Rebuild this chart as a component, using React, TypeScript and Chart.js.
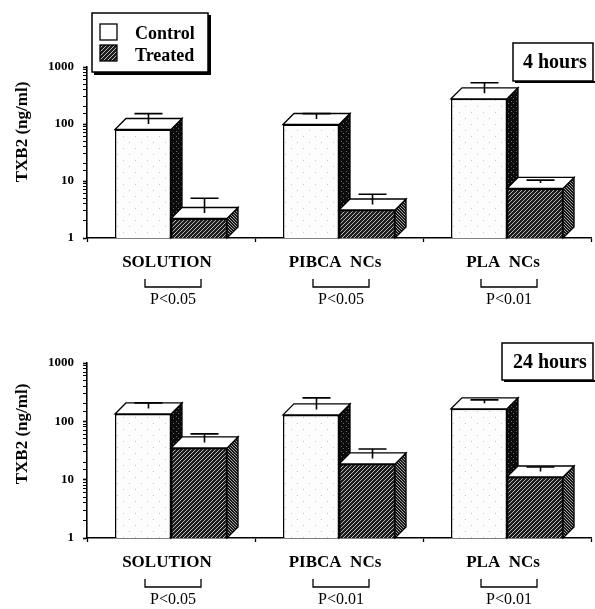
import React, { useEffect, useRef } from "react";
import { Chart, registerables } from "chart.js";

Chart.register(...registerables);

// ---------- data ----------
const categories = ["SOLUTION", "PIBCA  NCs", "PLA  NCs"];
const seriesLabels = ["Control", "Treated"];
const yTickLabels = ["1", "10", "100", "1000"];
const panelTitles = ["4 hours", "24 hours"];
const yAxisTitle = "TXB2 (ng/ml)";

const control4h = [80, 98, 277];
const control4hErrTop = [122, 122, 423];
const treated4h = [2.2, 3.1, 7.4];
const treated4hErrTop = [4.0, 4.7, 8.3];
const pValues4h = ["P<0.05", "P<0.05", "P<0.01"];

const control24h = [134, 129, 164];
const control24hErrTop = [167, 203, 188];
const treated24h = [35, 18.6, 11.1];
const treated24hErrTop = [49, 27, 13.3];
const pValues24h = ["P<0.05", "P<0.01", "P<0.01"];

// ---------- styling ----------
const SERIF = '"Liberation Serif", "Times New Roman", serif';
const DEPTH = 11;

type Panel = {
  title: string;
  control: number[];
  controlErr: number[];
  treated: number[];
  treatedErr: number[];
  pValues: string[];
  canvasTop: number;
  canvasH: number;
  chartTop: number;
  chartBottom: number;
  titleY: number;
  titleBox: [number, number, number, number];
  titleText: [number, number];
  legend: boolean;
};

const panels: Panel[] = [
  {
    title: panelTitles[0],
    control: control4h,
    controlErr: control4hErrTop,
    treated: treated4h,
    treatedErr: treated4hErrTop,
    pValues: pValues4h,
    canvasTop: 0,
    canvasH: 305,
    chartTop: 67,
    chartBottom: 238,
    titleY: 132,
    titleBox: [513, 43, 80, 38],
    titleText: [523, 68],
    legend: true,
  },
  {
    title: panelTitles[1],
    control: control24h,
    controlErr: control24hErrTop,
    treated: treated24h,
    treatedErr: treated24hErrTop,
    pValues: pValues24h,
    canvasTop: 305,
    canvasH: 304,
    chartTop: 363,
    chartBottom: 538,
    titleY: 434 - 305,
    titleBox: [502, 343 - 305, 91, 37],
    titleText: [513, 368 - 305],
    legend: false,
  },
];

function makePatterns(ctx: CanvasRenderingContext2D) {
  const tile = (w: number, h: number, draw: (g: CanvasRenderingContext2D) => void) => {
    const c = document.createElement("canvas");
    c.width = w;
    c.height = h;
    const g = c.getContext("2d")!;
    draw(g);
    return ctx.createPattern(c, "repeat")!;
  };
  const controlFront = tile(12, 12, (g) => {
    g.fillStyle = "#fdfdfd";
    g.fillRect(0, 0, 12, 12);
    g.fillStyle = "#c4c4c4";
    g.fillRect(3, 4, 1, 1);
    g.fillRect(9, 10, 1, 1);
  });
  const controlSide = tile(5, 5, (g) => {
    g.fillStyle = "#0c0c0c";
    g.fillRect(0, 0, 5, 5);
    g.fillStyle = "#6a6a6a";
    g.fillRect(1, 1, 1, 1);
    g.fillRect(3, 3, 1, 1);
  });
  const treatedFront = tile(4, 4, (g) => {
    g.fillStyle = "#1c1c1c";
    g.fillRect(0, 0, 4, 4);
    g.fillStyle = "#b8b8b8";
    for (let i = 0; i < 4; i++) g.fillRect(i, 3 - i, 1, 1);
  });
  const treatedSide = tile(3, 3, (g) => {
    g.fillStyle = "#161616";
    g.fillRect(0, 0, 3, 3);
    g.fillStyle = "#a8a8a8";
    g.fillRect(1, 0, 1, 1);
    g.fillRect(0, 2, 1, 1);
    g.fillRect(2, 1, 1, 1);
  });
  return { controlFront, controlSide, treatedFront, treatedSide };
}

function makeOverlay(panel: Panel, pats: ReturnType<typeof makePatterns>) {
  return {
    id: "overlay3d",
    afterDatasetsDraw(chart: any) {
      const ctx: CanvasRenderingContext2D = chart.ctx;
      const ys = chart.scales.y;
      const errs = [panel.controlErr, panel.treatedErr];
      const sides = [pats.controlSide, pats.treatedSide];
      chart.data.datasets.forEach((_ds: any, di: number) => {
        const meta = chart.getDatasetMeta(di);
        meta.data.forEach((el: any, i: number) => {
          const { x, y, base, width } = el.getProps(["x", "y", "base", "width"], true);
          if (di > 0) el.draw(ctx, chart.chartArea);
          const l = x - width / 2;
          const r = x + width / 2;
          const d = DEPTH;
          ctx.save();
          ctx.lineWidth = 1.3;
          ctx.strokeStyle = "#000";
          ctx.lineJoin = "miter";
          // side face
          ctx.beginPath();
          ctx.moveTo(r, y);
          ctx.lineTo(r + d, y - d);
          ctx.lineTo(r + d, base - d);
          ctx.lineTo(r, base);
          ctx.closePath();
          ctx.fillStyle = sides[di];
          ctx.fill();
          ctx.stroke();
          // top face
          ctx.beginPath();
          ctx.moveTo(l, y);
          ctx.lineTo(l + d, y - d);
          ctx.lineTo(r + d, y - d);
          ctx.lineTo(r, y);
          ctx.closePath();
          ctx.fillStyle = "#fff";
          ctx.fill();
          ctx.stroke();
          // error bar
          const ex = x + d / 2;
          const ey = ys.getPixelForValue(errs[di][i]) - d / 2;
          ctx.lineWidth = 1.6;
          ctx.beginPath();
          ctx.moveTo(ex, y - d / 2);
          ctx.lineTo(ex, ey);
          ctx.moveTo(ex - 14, ey);
          ctx.lineTo(ex + 14, ey);
          ctx.stroke();
          ctx.restore();
        });
      });
    },
    afterDraw(chart: any) {
      const ctx: CanvasRenderingContext2D = chart.ctx;
      const xs = chart.scales.x;
      const bottom = chart.chartArea.bottom;
      ctx.save();
      ctx.fillStyle = "#000";
      ctx.strokeStyle = "#000";

      // y axis title
      ctx.save();
      ctx.translate(27, panel.titleY);
      ctx.rotate(-Math.PI / 2);
      ctx.font = `bold 17px ${SERIF}`;
      ctx.textAlign = "center";
      ctx.textBaseline = "alphabetic";
      ctx.fillText(yAxisTitle, 0, 0);
      ctx.restore();

      // p-value brackets
      ctx.lineWidth = 1.3;
      ctx.font = `16px ${SERIF}`;
      ctx.textAlign = "center";
      ctx.textBaseline = "alphabetic";
      panel.pValues.forEach((p, i) => {
        const cx = xs.getPixelForValue(i) + 2;
        ctx.beginPath();
        ctx.moveTo(cx - 28, bottom + 41);
        ctx.lineTo(cx - 28, bottom + 49);
        ctx.lineTo(cx + 28, bottom + 49);
        ctx.lineTo(cx + 28, bottom + 41);
        ctx.stroke();
        ctx.fillText(p, cx, bottom + 66);
      });

      // panel title box
      const [bx, by, bw, bh] = panel.titleBox;
      ctx.fillStyle = "#fff";
      ctx.fillRect(bx, by, bw, bh);
      ctx.fillStyle = "#000";
      ctx.lineWidth = 1.5;
      ctx.strokeRect(bx, by, bw, bh);
      ctx.fillRect(bx + 2, by + bh, bw, 2);
      ctx.font = `bold 20px ${SERIF}`;
      ctx.textAlign = "left";
      ctx.fillText(panel.title, panel.titleText[0], panel.titleText[1]);

      // legend
      if (panel.legend) {
        ctx.fillStyle = "#fff";
        ctx.fillRect(92, 13, 116, 59);
        ctx.fillStyle = "#000";
        ctx.lineWidth = 1.5;
        ctx.strokeRect(92, 13, 116, 59);
        ctx.fillRect(208, 15, 3, 60);
        ctx.fillRect(94, 72, 117, 3);
        ctx.lineWidth = 1.3;
        ctx.fillStyle = "#fff";
        ctx.fillRect(100, 24, 17, 16);
        ctx.strokeRect(100, 24, 17, 16);
        ctx.fillStyle = pats.treatedFront;
        ctx.fillRect(100, 45, 17, 16);
        ctx.strokeRect(100, 45, 17, 16);
        ctx.fillStyle = "#000";
        ctx.font = `bold 18px ${SERIF}`;
        ctx.fillText(seriesLabels[0], 135, 39);
        ctx.fillText(seriesLabels[1], 135, 61);
      }
      ctx.restore();
    },
  };
}

function PanelChart({ panel }: { panel: Panel }) {
  const ref = useRef<HTMLCanvasElement | null>(null);
  useEffect(() => {
    const canvas = ref.current!;
    const ctx = canvas.getContext("2d")!;
    const pats = makePatterns(ctx);
    const xHeight = panel.canvasH - (panel.chartBottom - panel.canvasTop);
    const chart = new Chart(canvas, {
      type: "bar",
      data: {
        labels: categories,
        datasets: [
          {
            label: seriesLabels[0],
            data: panel.control,
            backgroundColor: pats.controlFront,
            borderColor: "#000",
            borderWidth: 1.5,
          },
          {
            label: seriesLabels[1],
            data: panel.treated,
            backgroundColor: pats.treatedFront,
            borderColor: "#000",
            borderWidth: 1.5,
          },
        ],
      },
      options: {
        responsive: false,
        animation: false,
        devicePixelRatio: 1,
        layout: {
          padding: { top: panel.chartTop - panel.canvasTop, right: 4, left: 0, bottom: 0 },
        },
        datasets: { bar: { categoryPercentage: 0.667, barPercentage: 1 } },
        plugins: { legend: { display: false }, tooltip: { enabled: false }, title: { display: false } },
        scales: {
          x: {
            type: "category",
            offset: true,
            afterFit: (s: any) => {
              s.height = xHeight;
            },
            grid: {
              offset: true,
              display: true,
              drawOnChartArea: false,
              drawTicks: true,
              tickLength: 4,
              tickColor: "#000",
              tickWidth: 1.3,
            },
            border: { display: true, color: "#000", width: 1.6 },
            ticks: {
              color: "#000",
              font: { family: SERIF, size: 17, weight: "bold" },
              padding: 10,
              labelOffset: -4,
              maxRotation: 0,
            },
          },
          y: {
            type: "logarithmic",
            min: 1,
            max: 1000,
            afterFit: (s: any) => {
              s.width = 87;
            },
            grid: {
              display: true,
              drawOnChartArea: false,
              drawTicks: true,
              tickLength: 4,
              tickColor: "#000",
              tickWidth: (c: any) => (yTickLabels.includes(String(c.tick?.value)) ? 1.6 : 1),
            },
            border: { display: true, color: "#000", width: 1.6 },
            ticks: {
              autoSkip: false,
              color: "#000",
              padding: 9,
              font: { family: SERIF, size: 13, weight: "bold" },
              callback: (v: any) => (yTickLabels.includes(String(v)) ? String(v) : ""),
            },
          },
        },
      },
      plugins: [makeOverlay(panel, pats)],
    } as any);
    return () => chart.destroy();
  }, [panel]);
  return (
    <canvas
      ref={ref}
      width={595}
      height={panel.canvasH}
      style={{ position: "absolute", left: 0, top: panel.canvasTop, width: 595, height: panel.canvasH }}
    />
  );
}

export default function App() {
  return (
    <div style={{ position: "absolute", left: 0, top: 0, width: 595, height: 609, background: "#fff" }}>
      {panels.map((p, i) => (
        <PanelChart key={i} panel={p} />
      ))}
    </div>
  );
}
